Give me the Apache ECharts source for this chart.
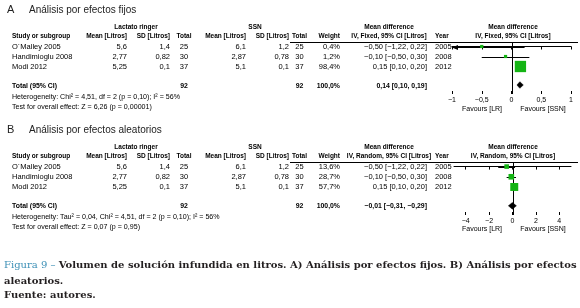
<!DOCTYPE html>
<html><head><meta charset="utf-8">
<script src="https://cdn.jsdelivr.net/npm/echarts@6/dist/echarts.min.js"></script>
<style>html,body{margin:0;padding:0;background:#fff}#c{width:580px;height:308px}</style>
</head><body><div id="c"></div>
<script>
// ---------- data ----------
const studies = ["O´Malley 2005", "Handimioglu 2008", "Modi 2012"];
const years = [2005, 2008, 2012];
const lrMean = [5.6, 2.77, 5.25];
const lrSd = [1.4, 0.82, 0.1];
const lrN = [25, 30, 37];
const ssnMean = [6.1, 2.87, 5.1];
const ssnSd = [1.2, 0.78, 0.1];
const ssnN = [25, 30, 37];
const md = [-0.50, -0.10, 0.15];
const ciLow = [-1.22, -0.50, 0.10];
const ciHigh = [0.22, 0.30, 0.20];
const weightFixed = [0.4, 1.2, 98.4];
const weightRandom = [13.6, 28.7, 57.7];
const totalN = [92, 92];
const totalWeight = [100.0, 100.0];
const totalFixed = [0.14, 0.10, 0.19];           // md, low, high
const totalRandomDrawn = [-0.01, -0.31, 0.29];    // diamond as drawn
const totalRandomPrinted = [-0.01, -0.31, -0.29]; // as printed in the table
const fixedTicks = [-1, -0.5, 0, 0.5, 1];
const randomTicks = [-4, -2, 0, 2, 4];
const fixedRange = [-1, 1];
const randomRange = [-5, 5];
const hetFixed = "Heterogeneity: Chi² = 4,51, df = 2 (p = 0,10); I² = 56%";
const testFixed = "Test for overall effect: Z = 6,26 (p = 0,00001)";
const hetRandom = "Heterogeneity: Tau² = 0,04, Chi² = 4,51, df = 2 (p = 0,10); I² = 56%";
const testRandom = "Test for overall effect: Z = 0,07 (p = 0,95)";

// ---------- helpers ----------
const SANS = '"Liberation Sans", Arial, Helvetica, sans-serif';
const SERIF = '"DejaVu Serif", "Liberation Serif", serif';
const F = (size, bold) => (bold ? 'bold ' : '') + size + 'px ' + SANS;
const num = v => (v < 0 ? '−' : '') + String(Math.abs(v)).replace('.', ',');
const fix = (v, d) => (v < 0 ? '−' : '') + Math.abs(v).toFixed(d).replace('.', ',');
const ciText = (m, l, h) => fix(m, 2) + ' [' + fix(l, 2) + ', ' + fix(h, 2) + ']';
function txt(x, y, text, align, font, fill) {
  return {type: 'text', x: x, y: y, silent: true,
    style: {text: text, font: font, fill: fill || '#000',
      textAlign: align, textVerticalAlign: 'middle', align: align, verticalAlign: 'middle'}};
}

function panelText(oy, letter, title, method, weights, tot, het, test) {
  const g = [];
  g.push(txt(7, 10 + oy, letter, 'left', F(11), '#222'));
  g.push(txt(29, 10 + oy, title, 'left', F(10), '#222'));
  const h1 = 27 + oy, h2 = 36 + oy;
  const hb = F(6.5, true);
  g.push(txt(136, h1, 'Lactato ringer', 'center', hb));
  g.push(txt(255, h1, 'SSN', 'center', hb));
  g.push(txt(389, h1, 'Mean difference', 'center', hb));
  g.push(txt(513, h1, 'Mean difference', 'center', hb));
  g.push(txt(12, h2, 'Study or subgroup', 'left', hb));
  g.push(txt(127, h2, 'Mean [Litros]', 'right', hb));
  g.push(txt(170, h2, 'SD [Litros]', 'right', hb));
  g.push(txt(184, h2, 'Total', 'center', hb));
  g.push(txt(246, h2, 'Mean [Litros]', 'right', hb));
  g.push(txt(289, h2, 'SD [Litros]', 'right', hb));
  g.push(txt(299.5, h2, 'Total', 'center', hb));
  g.push(txt(340, h2, 'Weight', 'right', hb));
  g.push(txt(389, h2, 'IV, ' + method + ', 95% CI [Litros]', 'center', hb));
  g.push(txt(435, h2, 'Year', 'left', hb));
  g.push(txt(513, h2, 'IV, ' + method + ', 95% CI [Litros]', 'center', hb));
  g.push({type: 'line', silent: true, shape: {x1: 290, y1: 42.5 + oy, x2: 578, y2: 42.5 + oy},
    style: {stroke: '#000', lineWidth: 1}});
  const rowY = [47, 57, 67];
  const df = F(7.5);
  studies.forEach((s, i) => {
    const y = rowY[i] + oy;
    g.push(txt(12, y, s, 'left', df));
    g.push(txt(127, y, num(lrMean[i]), 'right', df));
    g.push(txt(170, y, num(lrSd[i]), 'right', df));
    g.push(txt(184, y, String(lrN[i]), 'center', df));
    g.push(txt(246, y, num(ssnMean[i]), 'right', df));
    g.push(txt(289, y, num(ssnSd[i]), 'right', df));
    g.push(txt(299.5, y, String(ssnN[i]), 'center', df));
    g.push(txt(340, y, fix(weights[i], 1) + '%', 'right', df));
    g.push(txt(427, y, ciText(md[i], ciLow[i], ciHigh[i]), 'right', df));
    g.push(txt(435, y, String(years[i]), 'left', df));
  });
  const ty = 86 + oy, tb = F(6.9, true);
  g.push(txt(12, ty, 'Total (95% CI)', 'left', tb));
  g.push(txt(184, ty, String(totalN[0]), 'center', tb));
  g.push(txt(299.5, ty, String(totalN[1]), 'center', tb));
  g.push(txt(340, ty, fix(totalWeight[0], 1) + '%', 'right', tb));
  g.push(txt(427, ty, ciText(tot[0], tot[1], tot[2]), 'right', tb));
  g.push(txt(12, 97 + oy, het, 'left', F(7.1)));
  g.push(txt(12, 107 + oy, test, 'left', F(7.1)));
  g.push(txt(482, 109 + oy, 'Favours [LR]', 'center', F(7)));
  g.push(txt(543, 109 + oy, 'Favours [SSN]', 'center', F(7)));
  return g;
}

function makeStudyRender(xmin, xmax, k, minSize) {
  return function (params, api) {
    const lo = api.value(0), hi = api.value(1), yv = api.value(2), m = api.value(3), w = api.value(4);
    const pL = api.coord([Math.max(lo, xmin), yv]);
    const pH = api.coord([Math.min(hi, xmax), yv]);
    const pM = api.coord([m, yv]);
    const y = Math.round(pL[1]) + 0.5;
    const s = Math.max(minSize, k * Math.sqrt(w));
    const ch = [];
    let x0 = pL[0];
    if (lo < xmin) {
      ch.push({type: 'polygon', shape: {points: [[pL[0], y], [pL[0] + 6, y - 2.6], [pL[0] + 6, y + 2.6]]},
        style: {fill: '#000'}});
      x0 = pL[0] + 5;
    }
    ch.push({type: 'line', shape: {x1: x0, y1: y, x2: pH[0], y2: y}, style: {stroke: '#000', lineWidth: 1}});
    ch.push({type: 'rect', shape: {x: pM[0] - s / 2, y: pM[1] - s / 2, width: s, height: s},
      style: {fill: '#14b414'}});
    return {type: 'group', children: ch};
  };
}
function diamondRender(params, api) {
  const yv = api.value(2);
  const pL = api.coord([api.value(0), yv]), pH = api.coord([api.value(1), yv]), pM = api.coord([api.value(3), yv]);
  const hh = 3.3;
  return {type: 'polygon', shape: {points: [[pL[0] - 0.5, pM[1]], [pM[0], pM[1] - hh], [pH[0] + 0.5, pM[1]], [pM[0], pM[1] + hh]]},
    style: {fill: '#000', stroke: '#000', lineWidth: 0.5}};
}
function zeroRender(params, api) {
  const cs = params.coordSys;
  const x = Math.round(api.coord([api.value(0), 0])[0]) + 0.5;
  return {type: 'line', shape: {x1: x, y1: cs.y, x2: x, y2: cs.y + cs.height}, style: {stroke: '#000', lineWidth: 1}};
}

function xAxes(grid, range, ticks, interval) {
  const base = {gridIndex: grid, type: 'value', min: range[0], max: range[1], position: 'bottom', splitLine: {show: false}};
  if (interval) base.interval = interval;
  const a = Object.assign({}, base, {
    axisLine: {lineStyle: {color: '#000', width: 1}},
    axisTick: {length: 3, lineStyle: {color: '#000'}},
    axisLabel: {margin: 3, fontSize: 7, color: '#000', fontFamily: SANS, formatter: v => num(v)}
  });
  const b = Object.assign({}, base, {
    axisLine: {show: false},
    axisTick: {inside: true, length: 3, lineStyle: {color: '#000'}},
    axisLabel: {show: false}
  });
  if (!interval) {
    a.axisTick.customValues = ticks; a.axisLabel.customValues = ticks;
    b.axisTick.customValues = ticks;
  }
  return [a, b];
}

const rowPos = [0, 1, 2];
const totalPos = 3.85;
const yAx = g => ({gridIndex: g, type: 'value', min: -0.45, max: 4.75, inverse: true, show: false});

const graphics = []
  .concat(panelText(0, 'A', 'Análisis por efectos fijos', 'Fixed', weightFixed, totalFixed, hetFixed, testFixed))
  .concat(panelText(120, 'B', 'Análisis por efectos aleatorios', 'Random', weightRandom, totalRandomPrinted, hetRandom, testRandom));
graphics.push({type: 'text', x: 4, y: 265, silent: true, style: {
  text: '{a|Figura 9 –} {b|Volumen de solución infundida en litros. A) Análisis por efectos fijos. B) Análisis por efectos}',
  verticalAlign: 'middle', textVerticalAlign: 'middle',
  rich: {a: {fill: '#3d90b6', font: '10px ' + SERIF}, b: {fill: '#231f20', font: 'bold 10px ' + SERIF}}}});
graphics.push(txt(4, 281, 'aleatorios.', 'left', 'bold 10px ' + SERIF, '#231f20'));
graphics.push(txt(4, 295, 'Fuente: autores.', 'left', 'bold 10px ' + SERIF, '#231f20'));

const chart = echarts.init(document.getElementById('c'));
chart.setOption({
  animation: false,
  backgroundColor: '#fff',
  grid: [
    {left: 452, width: 119, top: 42, height: 52},
    {left: 454, width: 117, top: 162, height: 53}
  ],
  xAxis: xAxes(0, fixedRange, fixedTicks, 0.5).concat(xAxes(1, randomRange, randomTicks, null)),
  yAxis: [yAx(0), yAx(1)],
  series: [
    {type: 'custom', xAxisIndex: 0, yAxisIndex: 0, renderItem: zeroRender, data: [[0]], silent: true},
    {type: 'custom', xAxisIndex: 0, yAxisIndex: 0, renderItem: makeStudyRender(fixedRange[0], fixedRange[1], 1.14, 3.2),
      data: studies.map((s, i) => [ciLow[i], ciHigh[i], rowPos[i], md[i], weightFixed[i]]), silent: true},
    {type: 'custom', xAxisIndex: 0, yAxisIndex: 0, renderItem: diamondRender,
      data: [[totalFixed[1], totalFixed[2], totalPos, totalFixed[0]]], silent: true},
    {type: 'custom', xAxisIndex: 2, yAxisIndex: 1, renderItem: zeroRender, data: [[0]], silent: true},
    {type: 'custom', xAxisIndex: 2, yAxisIndex: 1, renderItem: makeStudyRender(randomRange[0], randomRange[1], 1.05, 4.6),
      data: studies.map((s, i) => [ciLow[i], ciHigh[i], rowPos[i], md[i], weightRandom[i]]), silent: true},
    {type: 'custom', xAxisIndex: 2, yAxisIndex: 1, renderItem: diamondRender,
      data: [[totalRandomDrawn[1], totalRandomDrawn[2], totalPos, totalRandomDrawn[0]]], silent: true}
  ],
  graphic: graphics
});
</script></body></html>
